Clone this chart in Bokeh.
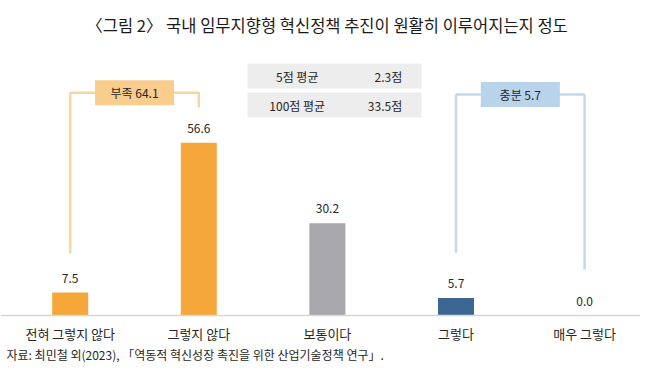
from bokeh.plotting import figure
from bokeh.models import Range1d, Label, ColumnDataSource, Span
from bokeh.core.properties import value
from bokeh.embed import file_html
from bokeh.resources import INLINE

# ---- data ----
categories = ["전혀 그렇지 않다", "그렇지 않다", "보통이다", "그렇다", "매우 그렇다"]
values = [7.5, 56.6, 30.2, 5.7, 0.0]
bar_colors = ["#F5A739", "#F5A739", "#A7A7AC", "#3B6792", "#3B6792"]
summary_labels = ["5점 평균", "100점 평균"]
summary_values = [2.3, 33.5]
group_names = ["부족", "충분"]
group_members = [[0, 1], [3, 4]]
group_fill = ["#F8CD8E", "#B8D3EA"]
group_line = ["#F9D59E", "#C3DAEC"]

title_text = "〈그림 2〉 국내 임무지향형 혁신정책 추진이 원활히 이루어지는지 정도"
source_text = "자료: 최민철 외(2023), 「역동적 혁신성장 촉진을 위한 산업기술정책 연구」."

# ---- layout ----
W, H = 640, 375
X0, DX = 69.7, 128.6      # px of first category centre, px per category
BASE, PPU = 315, 3.051    # px of baseline, px per value unit
FONT = "Noto Sans CJK KR"
TXT = "#262626"

def sx(px):
    return (px - X0) / DX

def sy(py):
    return (BASE - py) / PPU

p = figure(width=W, height=H, output_backend="svg", toolbar_location=None,
           x_range=Range1d(sx(0), sx(W)), y_range=Range1d(sy(H), sy(0)),
           min_border=0, outline_line_color=None)
p.axis.visible = False
p.grid.visible = False
p.background_fill_color = "white"

idx = list(range(len(categories)))
src = ColumnDataSource(dict(x=idx, top=values, color=bar_colors,
                            cat=categories, lab=[f"{v:.1f}" for v in values]))

p.vbar(x="x", top="top", bottom=0, width=36 / DX, fill_color="color",
       line_color=None, source=src)

# baseline
p.add_layout(Span(location=0, dimension="width", line_color="#D6D6D6", line_width=1.5))

# value labels
p.text(x="x", y="top", text="lab", source=src, y_offset=-14.5,
       text_align="center", text_baseline="middle", text_color=TXT,
       text_font=value(FONT), text_font_size="12px")

# category labels
p.text(x="x", y=0, text="cat", source=src, y_offset=18,
       text_align="center", text_baseline="middle", text_color=TXT,
       text_font=value(FONT), text_font_size="13px")

# brackets
bracket_top = [73.0, 72.4]
bracket_gap = [[12.8, 11.6], [14.9, 15.1]]
for g, (a, b) in enumerate(group_members):
    t = bracket_top[g]
    ya = values[a] + bracket_gap[g][0]
    yb = values[b] + bracket_gap[g][1]
    p.line(x=[a, a, b, b], y=[ya, t, t, yb], line_color=group_line[g], line_width=2.5)
    mid = (a + b) / 2
    p.rect(x=[mid], y=[t], width=79, height=25, width_units="screen",
           height_units="screen", fill_color=group_fill[g], line_color=None)
    total = sum(values[i] for i in group_members[g])
    p.text(x=[mid], y=[t], text=[f"{group_names[g]} {total:.1f}"],
           text_align="center", text_baseline="middle", text_color=TXT,
           text_font=value(FONT), text_font_size="12px")

# summary table
row_py = [75.5, 104.5]
for r in range(len(summary_labels)):
    yc = sy(row_py[r])
    p.rect(x=[sx(334)], y=[yc], width=174, height=25, width_units="screen",
           height_units="screen", fill_color="#EDEDED", line_color=None)
    p.text(x=[sx(296.7)], y=[yc], text=[summary_labels[r]], text_align="center",
           text_baseline="middle", text_color=TXT, text_font=value(FONT),
           text_font_size="12px")
    p.text(x=[sx(401.7)], y=[yc], text=[f"{summary_values[r]:.1f}점"], text_align="right",
           text_baseline="middle", text_color=TXT, text_font=value(FONT),
           text_font_size="12px")

# title and source
p.add_layout(Label(x=326.5, y=H - 24, x_units="screen", y_units="screen", text=title_text,
                   text_align="center", text_baseline="middle", text_color="#1A1A1A",
                   text_font=FONT, text_font_size="16.5px"))
p.add_layout(Label(x=6, y=H - 354, x_units="screen", y_units="screen", text=source_text,
                   text_align="left", text_baseline="middle", text_color=TXT,
                   text_font=FONT, text_font_size="12px"))

open("out.html", "w").write(file_html(p, INLINE))
